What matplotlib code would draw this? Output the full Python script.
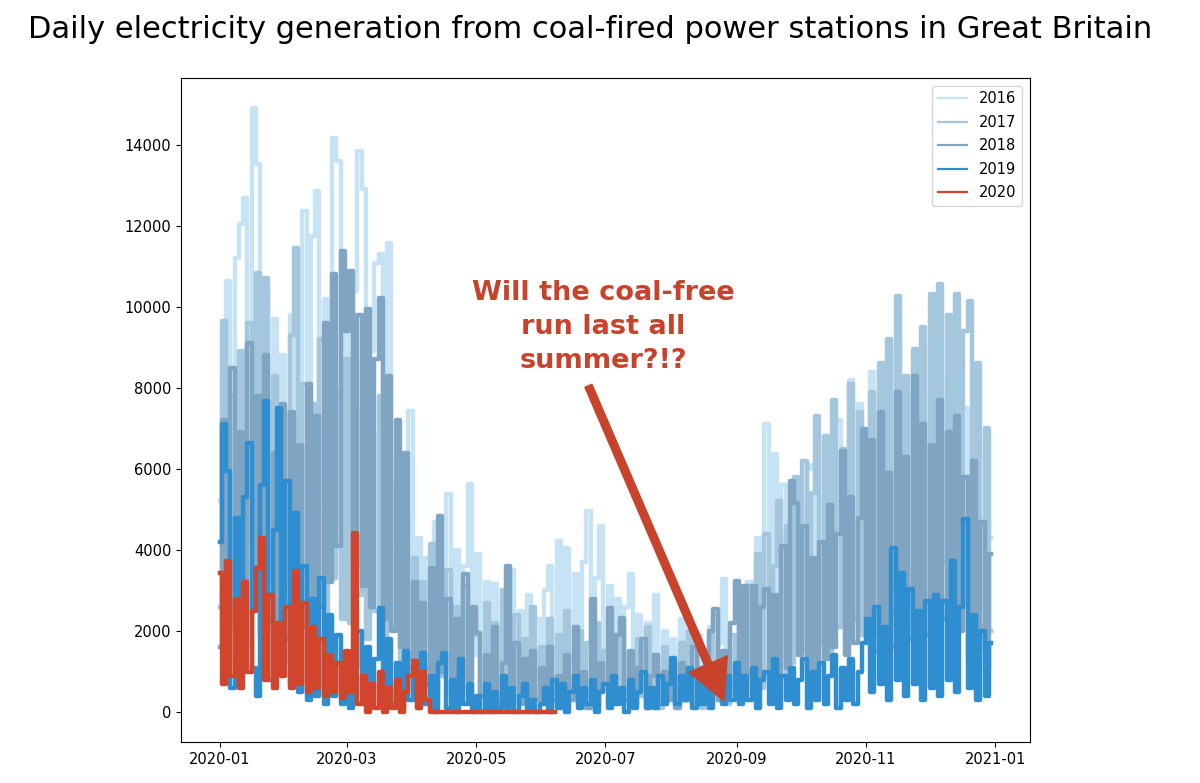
import numpy as np
import pandas as pd
import matplotlib.pyplot as plt
import matplotlib.dates as mdates

# readings every 2 days, Jan 1 .. Dec 31 (all years mapped onto 2020)
dates = pd.date_range("2020-01-01", "2020-12-31", freq="2D")

y2016 = [
    5200, 8300, 10640, 3400, 11210, 12050, 12690, 4300, 14890, 13530, 5200, 10400, 3300, 9700, 2900, 8800,  # jan
    3200, 9800, 2600, 8200, 12370, 3500, 11750, 12860, 4900, 10200, 3300, 14150, 13600, 4600,  # feb
    9800, 3100, 10400, 13850, 12900, 3600, 8900, 11090, 11310, 2700, 11580, 4100, 2200, 5400, 1600, 7430,  # mar
    1300, 4300, 900, 3800, 1600, 4700, 1100, 3400, 5380, 1200, 4000, 800, 3600, 5630, 1400,  # apr
    3900, 700, 3200, 1000, 3160, 600, 2700, 1100, 3500, 700, 2500, 500, 2900, 800, 2300,  # may
    1000, 3000, 3600, 1200, 4220, 1500, 4050, 1300, 3400, 900, 3700, 4960, 1200, 3300, 4590,  # jun
    1100, 3100, 700, 2800, 600, 2600, 3400, 800, 2400, 400, 2200, 700, 2900, 500, 2000, 600,  # jul
    1800, 300, 2300, 500, 1600, 200, 1900, 400, 1400, 2100, 300, 1700, 3280, 400, 1500,  # aug
    500, 2600, 700, 3200, 900, 4300, 1300, 7100, 2600, 6370, 1500, 5600, 1200, 4700, 1600,  # sep
    5200, 1500, 6100, 6000, 1700, 5300, 1300, 6600, 2100, 7200, 2300, 6400, 8200, 2500, 7600, 2000,  # oct
    5100, 8400, 2200, 7700, 2600, 8900, 3000, 9300, 2700, 7900, 2100, 8600, 3100, 9100, 2500,  # nov
    7800, 2000, 8300, 2800, 7200, 1800, 6800, 2300, 7500, 2100, 5900, 1500, 4600, 6700, 4300,  # dec
]
y2017 = [
    2600, 9650, 2400, 7800, 2000, 8900, 3000, 9600, 2500, 10840, 3500, 10720, 2200, 8300, 3200, 7400,
    2700, 9300, 11460, 3000, 8100, 2100, 7600, 2800, 9200, 1900, 8400, 3300, 7900, 2300,
    8700, 2200, 7500, 2900, 8600, 1800, 6900, 2500, 7800, 1600, 6200, 2100, 5600, 1300, 4900, 1100,
    3800, 700, 3200, 1100, 4150, 600, 2900, 900, 3500, 500, 2600, 800, 3100, 400, 2400,
    1900, 400, 2700, 600, 2200, 300, 3000, 700, 500, 2400, 300, 1800, 500, 2600, 400,
    1600, 300, 2300, 500, 1900, 200, 2500, 600, 400, 2000, 400, 1700, 300, 2200, 500,
    1500, 200, 1900, 400, 2300, 300, 1400, 200, 1800, 400, 2100, 300, 1300, 100, 1600, 300,
    1200, 200, 1700, 300, 2000, 200, 1100, 100, 1500, 300, 2400, 300, 1300, 200, 1900,
    500, 2600, 400, 3100, 700, 3900, 600, 4400, 1000, 3600, 5200, 900, 4600, 1200, 5800,
    1600, 6200, 1400, 5400, 7300, 1700, 6800, 1500, 7700, 2100, 6500, 1700, 8100, 2300, 7400, 1900,
    2200, 7900, 1900, 8600, 2600, 9200, 2400, 10270, 3100, 8300, 2700, 8960, 3300, 9500, 2900,
    10320, 3500, 10570, 3700, 9800, 2800, 10320, 3600, 9400, 10150, 2700, 8600, 2100, 7000, 2000,
]
y2018 = [
    1600, 7200, 1200, 8500, 2200, 6900, 1700, 9100, 2500, 7800, 1900, 8800, 2300, 6400, 1500, 7600,
    1800, 7400, 1400, 6600, 2100, 8100, 1800, 7300, 2600, 9600, 3200, 10800, 4100, 11380,
    9400, 10890, 3600, 9800, 3100, 9950, 2600, 8700, 10220, 2300, 8300, 2000, 7200, 1600, 6400, 1300,
    3200, 500, 2700, 700, 3560, 300, 4840, 1000, 2800, 400, 2300, 600, 3400, 800, 2600,
    1950, 400, 1400, 300, 2100, 200, 1200, 3600, 400, 1700, 200, 1300, 100, 1500, 300,
    1100, 200, 1600, 300, 900, 100, 1400, 300, 2100, 200, 1000, 100, 2800, 200, 1200,
    700, 2560, 200, 1900, 2320, 300, 1500, 200, 1100, 1800, 100, 900, 1400, 200, 1000, 300,
    900, 100, 1200, 300, 800, 1600, 200, 1100, 400, 2000, 2540, 300, 1500, 500, 2200,
    3230, 700, 3100, 1000, 3110, 600, 2600, 3030, 900, 2900, 800, 4100, 1100, 5700, 5160,
    1400, 4600, 1100, 3800, 1000, 4200, 1300, 5100, 1600, 4400, 6440, 1400, 5300, 1700, 4800, 6990,
    1800, 6700, 1500, 7400, 2100, 5900, 1600, 7900, 2400, 6300, 1800, 8300, 2300, 7100, 1900,
    6600, 1700, 7700, 2300, 6900, 1400, 7300, 2000, 5800, 1300, 6200, 1500, 4700, 1100, 3900,
]
y2019 = [
    4200, 7100, 5950, 600, 4800, 900, 5300, 6640, 1100, 400, 5600, 7680, 800, 4500, 7500, 1200,
    5700, 700, 4900, 500, 3600, 300, 2800, 400, 3300, 200, 2400, 400, 1900, 200,
    1400, 100, 1100, 2000, 200, 1600, 300, 1300, 2570, 100, 1800, 200, 1200, 100, 1500, 300,
    1100, 100, 1450, 200, 900, 0, 1200, 1450, 100, 800, 0, 1300, 200, 700, 0,
    400, 0, 700, 0, 500, 100, 900, 100, 600, 0, 400, 700, 0, 300, 0,
    200, 600, 0, 800, 100, 700, 0, 500, 900, 100, 600, 200, 800, 0, 500,
    700, 100, 900, 200, 600, 0, 800, 100, 500, 1000, 100, 600, 100, 900, 200, 700,
    1330, 200, 900, 300, 1100, 100, 800, 200, 1000, 100, 700, 1200, 200, 900, 300,
    1200, 200, 900, 300, 1100, 100, 800, 1000, 200, 1300, 100, 900, 300, 1100, 200,
    800, 1300, 100, 1000, 300, 1200, 200, 900, 1400, 100, 1100, 300, 1300, 200, 1000, 1700,
    2300, 500, 2600, 700, 2100, 300, 4050, 800, 3430, 400, 3040, 700, 2500, 300, 2740,
    600, 2900, 400, 2740, 800, 3730, 500, 2600, 4770, 600, 2400, 300, 2000, 400, 1700,
]
# 2020 so far: Jan 1 .. Jun 8
y2020 = [
    3430, 700, 3730, 900, 2800, 600, 3200, 1000, 2500, 3560, 4300, 800, 2900, 600, 2200, 900,
    2600, 600, 3480, 700, 2700, 500, 2100, 600, 1800, 400, 1400, 500, 1200, 350,
    1500, 500, 4420, 200, 900, 0, 700, 100, 1000, 0, 600, 100, 800, 0, 500, 900,
    1260, 100, 1000, 300, 0, 0, 0, 0, 0, 0, 0, 0, 0, 0, 0,
    0, 0, 0, 0, 0, 0, 0, 0, 0, 0, 0, 0, 0, 0, 0,
    0, 0, 0, 0,
]

years = ["2016", "2017", "2018", "2019", "2020"]
colors = ["#c6e3f5", "#a4c7de", "#7fa5c2", "#2f8ecf", "#d0452b"]
series = [y2016, y2017, y2018, y2019, y2020]

fig = plt.figure(figsize=(12, 7.83), dpi=100)
ax = fig.add_axes([0.151, 0.052, 0.707, 0.848])

for yr, c, vals in zip(years, colors, series):
    ax.plot(dates[:len(vals)], vals, color=c, lw=3.2, drawstyle="steps-mid", label=yr)

ax.xaxis.set_major_locator(mdates.MonthLocator(bymonth=[1, 3, 5, 7, 9, 11]))
ax.xaxis.set_major_formatter(mdates.DateFormatter("%Y-%m"))
ax.tick_params(labelsize=10.5)
leg = ax.legend(loc="upper right", fontsize=10.5, labelspacing=0.58)
for h in leg.get_lines():
    h.set_linewidth(1.6)

red = "#c8432b"
ax.text(mdates.date2num(pd.Timestamp("2020-06-30")), 9500,
        "Will the coal-free\nrun last all\nsummer?!?", color=red, fontsize=19.5,
        fontweight="bold", ha="center", va="center", linespacing=1.39)
ax.annotate("", xy=(mdates.date2num(pd.Timestamp("2020-08-26")), 270),
            xytext=(mdates.date2num(pd.Timestamp("2020-06-23")), 8050),
            arrowprops=dict(facecolor=red, edgecolor=red, width=5.5, headwidth=30, headlength=29))

fig.suptitle("Daily electricity generation from coal-fired power stations in Great Britain",
             x=0.492, y=0.962, va="center", fontsize=22)

fig.savefig("out.png")
